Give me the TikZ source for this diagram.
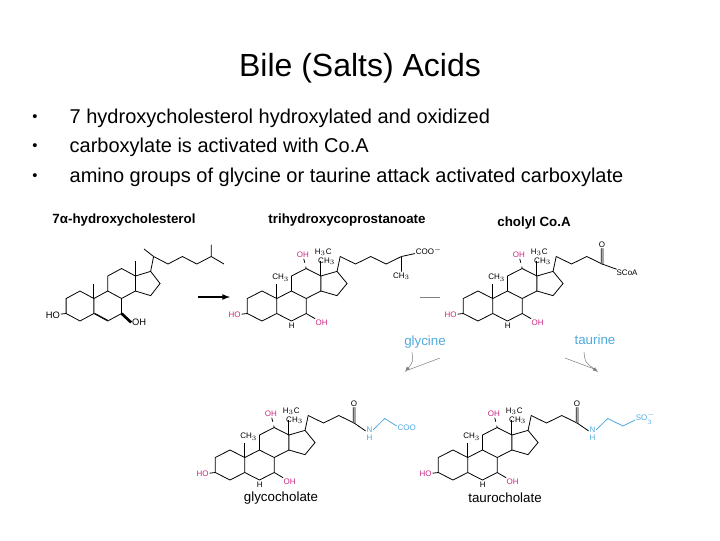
\documentclass[tikz,border=0pt]{standalone}
\usepackage{fontspec}
\setmainfont{Liberation Sans}
\begin{document}
\begin{tikzpicture}[x=0.75pt,y=-0.75pt]
\definecolor{pk}{RGB}{200,40,130}
\definecolor{bl}{RGB}{80,170,220}
\tikzset{bond/.style={line width=0.6pt},lbl/.style={font=\fontsize{6}{6}\selectfont,inner sep=0.5pt},
 oh/.style={lbl,text=pk},nb/.style={lbl,text=bl},
 title/.style={font=\fontsize{10}{10}\selectfont\bfseries}}
\useasboundingbox (0,0) rectangle (720,540);
\newcommand\skel{%
 \draw[bond] (0,-1)--(0.866,-0.5)--(0.866,0.5)--(0,1)--(-0.866,0.5)--(-0.866,-0.5)--cycle;
 \draw[bond] (0.866,-0.5)--(1.732,-1)--(2.598,-0.5)--(2.598,0.5)--(1.732,1)--(0.866,0.5);
 \draw[bond] (1.732,-1)--(1.732,-2)--(2.598,-2.5)--(3.464,-2)--(3.464,-1)--(2.598,-0.5);
 \draw[bond] (3.464,-2)--(4.415,-2.309)--(5.003,-1.5)--(4.415,-0.691)--(3.464,-1);
 \draw[bond] (3.464,-2)--(3.464,-3);
 \draw[bond] (0.866,-0.5)--(0.866,-1.5);
 \draw[bond] (4.415,-2.309)--(4.6,-3.3);}
\newcommand\ohs{%
 \node[oh,anchor=east] (ho) at (-1.2,0.6) {HO}; \draw[bond] (ho)--(-0.866,0.5);
 \node[oh,anchor=west] (o7) at (3.1,1.1) {OH}; \draw[bond] (o7)--(2.598,0.5);
 \node[oh] (o12) at (2.4,-3.4) {OH}; \draw[bond,dashed] (o12)--(2.598,-2.5);
 \node[lbl] at (1.1,-1.9) {CH$_3$}; \node[lbl] at (3.8,-3.0) {CH$_3$};
 \node[lbl] at (3.6,-3.6) {H$_3$C}; \node[lbl] at (1.75,1.3) {H};}
% titles and text
\node[font=\fontsize{24}{24}\selectfont] (t) at (360,68) {Bile (Salts) Acids};
\foreach \y/\s in {118/7 hydroxycholesterol hydroxylated and oxidized,147/carboxylate is activated with Co.A,177/amino groups of glycine or taurine attack activated carboxylate}{
 \node[font=\fontsize{11}{11}\selectfont] at (35,\y) {•};
 \node[font=\fontsize{15}{15}\selectfont,anchor=west] at (65,\y) {\s};}
\node[title] (l1) at (124,220) {7α-hydroxycholesterol};
\node[title] (l2) at (347,220) {trihydroxycoprostanoate};
\node[title] (l3) at (534,223) {cholyl Co.A};
\node[font=\fontsize{10}{10}\selectfont,text=bl] (gly) at (425,342) {glycine};
\node[font=\fontsize{10}{10}\selectfont,text=bl] (tau) at (595,340) {taurine};
\node[font=\fontsize{10}{10}\selectfont] (l4) at (281,498) {glycocholate};
\node[font=\fontsize{10}{10}\selectfont] (l5) at (505,498) {taurocholate};
% cholesterol
\begin{scope}[shift={(80,306)},xscale=16,yscale=15]
 \skel
 \draw[bond] (0.95,0.5)--(1.73,0.95);
 \node[lbl,font=\fontsize{7}{7}\selectfont,anchor=east] (a) at (-1.2,0.6) {HO}; \draw[bond] (a)--(-0.866,0.5);
 \node[lbl,font=\fontsize{7}{7}\selectfont,anchor=west] (b) at (3.2,1.1) {OH}; \draw[line width=2pt] (b.west)--(2.598,0.5);
 \draw[bond] (4.6,-3.3)--(4.0,-3.8);
 \draw[bond] (4.6,-3.3)--(5.5,-2.8)--(6.4,-3.3)--(7.3,-2.8)--(8.2,-3.3)--(8.2,-4.1);
 \draw[bond] (8.2,-3.3)--(9.0,-2.8);
\end{scope}
\draw[-latex,line width=1pt] (198,297)--(230,297);
% trihydroxycoprostanoate
\begin{scope}[shift={(262,306)},xscale=17,yscale=15]
 \skel \ohs
 \draw[bond] (4.6,-3.3)--(5.5,-2.8)--(6.4,-3.3)--(7.3,-2.8)--(8.2,-3.3);
 \node[lbl,anchor=west] (coo) at (9.0,-3.7) {COO$^-$}; \draw[bond] (8.2,-3.3)--(coo);
 \node[lbl] (me) at (8.2,-2.0) {CH$_3$}; \draw[bond] (8.2,-3.3)--(me);
\end{scope}
\draw[gray] (420,297)--(440,297);
% cholyl CoA
\begin{scope}[shift={(478,306)},xscale=17,yscale=15]
 \skel \ohs
 \draw[bond] (4.6,-3.3)--(5.5,-2.8)--(6.4,-3.3)--(7.3,-2.8);
 \node[lbl] (o) at (7.3,-4.1) {O}; \draw[bond,double] (7.3,-2.8)--(o);
 \node[lbl,anchor=west] (s) at (8.1,-2.2) {SCoA}; \draw[bond] (7.3,-2.8)--(s);
\end{scope}
% curved arrows
\draw[gray,-latex] (412,352) .. controls (413,362) .. (405,372);
\draw[gray] (440,358) -- (408,370);
\draw[gray,-latex] (584,352) .. controls (585,362) .. (598,372);
\draw[gray] (565,358) -- (597,370);
% glycocholate
\begin{scope}[shift={(230,465)},xscale=17,yscale=15]
 \skel \ohs
 \draw[bond] (4.6,-3.3)--(5.5,-2.8)--(6.4,-3.3)--(7.3,-2.8);
 \node[lbl] (o) at (7.3,-4.1) {O}; \draw[bond,double] (7.3,-2.8)--(o);
 \node[nb,align=center] (n) at (8.2,-2.1) {N\\H}; \draw[bond] (7.3,-2.8)--(n);
 \draw[bond,bl] (n)--(9.1,-3.1)--(9.8,-2.6);
 \node[nb,anchor=west] at (9.8,-2.5) {COO};
\end{scope}
% taurocholate
\begin{scope}[shift={(453,465)},xscale=17,yscale=15]
 \skel \ohs
 \draw[bond] (4.6,-3.3)--(5.5,-2.8)--(6.4,-3.3)--(7.3,-2.8);
 \node[lbl] (o) at (7.3,-4.1) {O}; \draw[bond,double] (7.3,-2.8)--(o);
 \node[nb,align=center] (n) at (8.2,-2.1) {N\\H}; \draw[bond] (7.3,-2.8)--(n);
 \draw[bond,bl] (n)--(9.1,-3.1)--(10.0,-2.6)--(10.7,-3.0);
 \node[nb,anchor=west] at (10.7,-3.1) {SO$_3^-$};
\end{scope}
\end{tikzpicture}
\end{document}
